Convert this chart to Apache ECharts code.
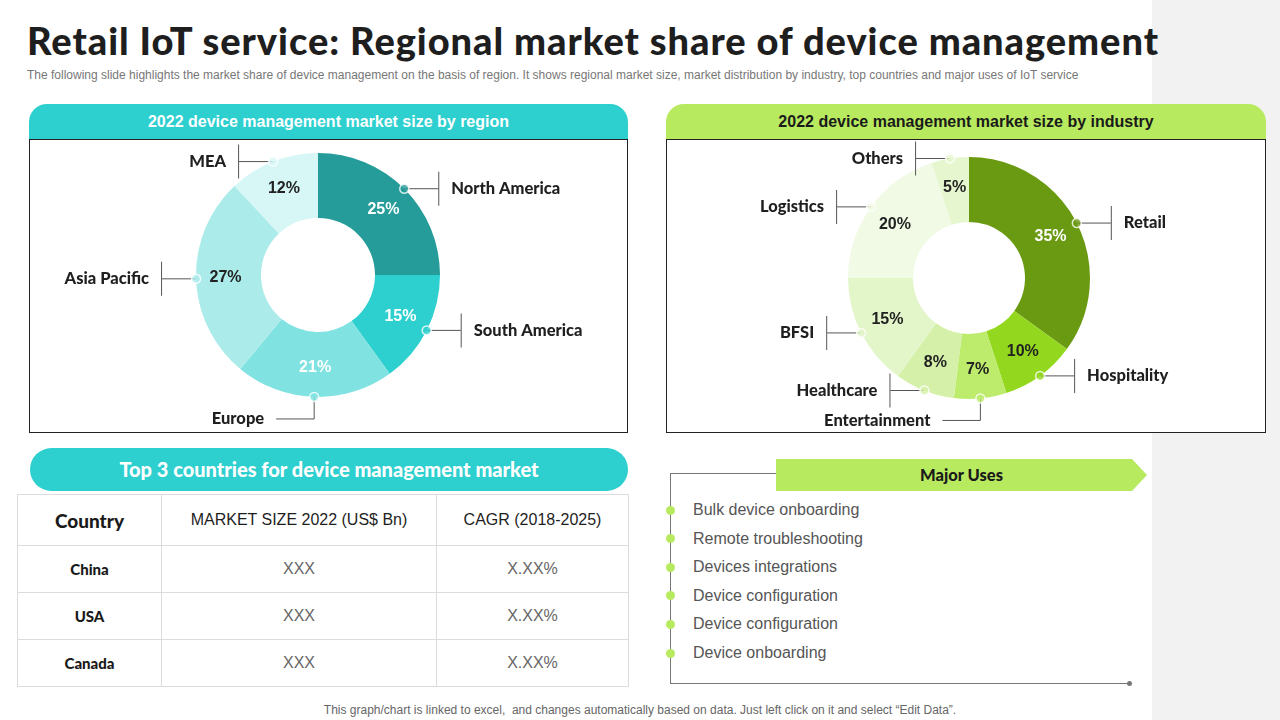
<!DOCTYPE html>
<html><head><meta charset="utf-8">
<script src="https://cdn.jsdelivr.net/npm/echarts@6/dist/echarts.min.js"></script>
<style>
body{margin:0;width:1280px;height:720px;position:relative;background:#fff;overflow:hidden;font-family:'Liberation Sans',Arial,sans-serif;}
.abs{position:absolute;}
#strip{left:1152px;top:0;width:128px;height:720px;background:#f2f2f2;}
#title{left:27px;top:17px;font-family:Lato,sans-serif;font-weight:900;font-size:38px;color:#1e1e1e;white-space:nowrap;letter-spacing:0.95px;}
#subtitle{left:27px;top:68px;font-size:12px;color:#777;white-space:nowrap;letter-spacing:0px;}
.hdr{height:35px;line-height:35px;text-align:center;font-weight:bold;font-size:16px;border-radius:18px 18px 0 0;}
.box{box-sizing:border-box;border:1px solid #222;background:#fff;}
#pill{left:30px;top:448px;width:598px;height:43px;line-height:42px;border-radius:22px;background:#2dcfcf;color:#fff;text-align:center;font-family:Lato,sans-serif;font-weight:900;font-size:20px;}
table{border-collapse:collapse;position:absolute;left:17px;top:494px;width:612px;}
td{border:1px solid #dcdcdc;text-align:center;padding:0;}
.c1{font-family:Lato,sans-serif;font-weight:900;font-size:15px;color:#1a1a1a;}
.th1{font-family:Lato,sans-serif;font-weight:900;font-size:19px;color:#1a1a1a;}
.th{font-size:16px;color:#1e1e1e;}
.cv{font-size:16px;color:#666;}
#banner{left:776px;top:459px;width:371px;height:32px;line-height:32px;background:#b8ea5f;text-align:center;font-family:Lato,sans-serif;font-weight:900;font-size:16.5px;color:#1a1a1a;clip-path:polygon(0 0,calc(100% - 15px) 0,100% 50%,calc(100% - 15px) 100%,0 100%);}
.use{left:693px;font-size:16px;color:#555;white-space:nowrap;line-height:20px;}
.dot{left:666px;width:9px;height:9px;border-radius:50%;background:#b8ea5f;}
#footer{left:0;width:1280px;top:703px;text-align:center;font-size:12px;color:#666;}
</style></head>
<body>
<div class="abs" id="strip"></div>
<div class="abs" id="title">Retail IoT service: Regional market share of device management</div>
<div class="abs" id="subtitle">The following slide highlights the market share of device management on the basis of region. It shows regional market size, market distribution by industry, top countries and major uses of IoT service</div>

<div class="abs hdr" style="left:29px;top:104px;width:599px;background:#2dcfcf;color:#fff;">2022 device management market size by region</div>
<div class="abs box" style="left:29px;top:139px;width:599px;height:294px;"></div>
<div class="abs" id="c1" style="left:29px;top:139px;width:599px;height:294px;"></div>

<div class="abs hdr" style="left:666px;top:104px;width:600px;background:#b8ea5f;color:#1a1a1a;">2022 device management market size by industry</div>
<div class="abs box" style="left:666px;top:139px;width:600px;height:294px;"></div>
<div class="abs" id="c2" style="left:666px;top:139px;width:600px;height:294px;"></div>

<div class="abs" id="pill">Top 3 countries for device management market</div>
<table id="tbl"></table>

<div class="abs" style="left:670px;top:473px;width:106px;border-top:1px solid #777;"></div>
<div class="abs" style="left:670px;top:473px;height:210px;border-left:1px solid #777;"></div>
<div class="abs" style="left:670px;top:683px;width:459px;border-top:1px solid #777;"></div>
<div class="abs" style="left:1127px;top:681px;width:5px;height:5px;border-radius:50%;background:#777;"></div>
<div class="abs" id="banner">Major Uses</div>
<div id="uses"></div>

<div class="abs" id="footer">This graph/chart is linked to excel,&nbsp; and changes automatically based on data. Just left click on it and select “Edit Data”.</div>

<script>
// ---- data ----
const regionNames = ['North America', 'South America', 'Europe', 'Asia Pacific', 'MEA'];
const regionValues = [25, 15, 21, 27, 12];
const industryNames = ['Retail', 'Hospitality', 'Entertainment', 'Healthcare', 'BFSI', 'Logistics', 'Others'];
const industryValues = [35, 10, 7, 8, 15, 20, 5];
const tableHeaders = ['Country', 'MARKET SIZE 2022 (US$ Bn)', 'CAGR (2018-2025)'];
const countries = ['China', 'USA', 'Canada'];
const marketSizes = ['XXX', 'XXX', 'XXX'];
const cagrs = ['X.XX%', 'X.XX%', 'X.XX%'];
const majorUses = ['Bulk device onboarding', 'Remote troubleshooting', 'Devices integrations', 'Device configuration', 'Device configuration', 'Device onboarding'];

// ---- styles ----
const regionColors = ['#259c9a', '#2ed0cf', '#80e3e2', '#abeceb', '#d7f6f6'];
const regionLabelColors = ['#fff', '#fff', '#fff', '#222', '#222'];
const industryColors = ['#6a9a12', '#93d81e', '#bdeb6c', '#d5f1a9', '#e3f6c9', '#f1fae5', '#e6f7cf'];
const industryLabelColors = ['#fff', '#222', '#222', '#222', '#222', '#222', '#222'];

// table
const tbl = document.getElementById('tbl');
let html = '<tr style="height:51px"><td class="th1" style="width:143px">' + tableHeaders[0] + '</td><td class="th" style="width:274px">' + tableHeaders[1] + '</td><td class="th">' + tableHeaders[2] + '</td></tr>';
countries.forEach((c, i) => {
  html += '<tr style="height:47px"><td class="c1">' + c + '</td><td class="cv">' + marketSizes[i] + '</td><td class="cv">' + cagrs[i] + '</td></tr>';
});
tbl.innerHTML = html;

// uses
const usesEl = document.getElementById('uses');
majorUses.forEach((u, i) => {
  const y = 510 + i * 28.6;
  usesEl.innerHTML += '<div class="abs dot" style="top:' + (y - 4.5) + 'px"></div><div class="abs use" style="top:' + (y - 10) + 'px">' + u + '</div>';
});

function makeDonut(el, names, values, colors, labelColors, cx, cy, r0, r1) {
  const total = values.reduce((a, b) => a + b, 0);
  const mids = [];
  let acc = 0;
  values.forEach(v => { mids.push(acc + v / 2); acc += v; });
  const angleOf = i => mids[i] / total * 360;
  const sideOf = i => {
    const a = angleOf(i);
    if (Math.abs(a - 180) < 12) return 'bottom';
    return a < 180 ? 'right' : 'left';
  };
  const nameFont = { fontFamily: 'Lato', fontWeight: 900, fontSize: 16.5, color: '#1f1f1f' };
  const chart = echarts.init(document.getElementById(el));
  chart.setOption({
    animation: false,
    polar: { center: [cx, cy], radius: [0, r1] },
    angleAxis: { type: 'value', min: 0, max: total, startAngle: 90, clockwise: true, show: false },
    radiusAxis: { type: 'value', min: 0, max: 1, show: false },
    series: [
      {
        type: 'pie', radius: [r0, r1], center: [cx, cy], startAngle: 90, clockwise: true, silent: true,
        label: { show: true, position: 'inside', formatter: '{c}%', fontSize: 16, fontWeight: 'bold', fontFamily: 'Liberation Sans' },
        labelLine: { show: false },
        data: names.map((n, i) => ({ name: n, value: values[i], itemStyle: { color: colors[i] }, label: { color: labelColors[i] } }))
      },
      {
        type: 'pie', radius: [r0, r1], center: [cx, cy], startAngle: 90, clockwise: true, silent: true,
        itemStyle: { color: 'rgba(0,0,0,0)' },
        label: {
          show: true, position: 'outside',
          formatter: p => {
            const s = sideOf(p.dataIndex);
            if (s === 'right') return '{bar| }{nr|' + p.name + '}';
            if (s === 'left') return '{nl|' + p.name + '}{bar| }';
            return '{nl|' + p.name + '}';
          },
          rich: {
            bar: { width: 1, height: 34, backgroundColor: '#555' },
            nr: Object.assign({ padding: [0, 0, 0, 12] }, nameFont),
            nl: Object.assign({ padding: [0, 12, 0, 0] }, nameFont)
          }
        },
        labelLine: { show: true, length: 0, length2: 34, lineStyle: { color: '#555', width: 1 } },
        labelLayout: p => {
          const i = p.dataIndex;
          const a = angleOf(i) * Math.PI / 180;
          const x0 = cx + r1 * Math.sin(a), y0 = cy - r1 * Math.cos(a);
          const s = sideOf(i);
          let x1 = x0, y1 = y0, x2, y2;
          if (s === 'bottom') { y1 = y0 + 22; x2 = x1 - 38; y2 = y1; }
          else { x2 = x0 + (s === 'right' ? 34 : -34); y2 = y0; }
          return { x: x2, y: y2, align: s === 'right' ? 'left' : 'right', verticalAlign: 'middle', labelLinePoints: [[x0, y0], [x1, y1], [x2, y2]] };
        },
        data: names.map((n, i) => ({ name: n, value: values[i] }))
      },
      {
        type: 'scatter', coordinateSystem: 'polar', silent: true, symbolSize: 9, z: 5,
        data: mids.map((m, i) => ({ value: [1, m], itemStyle: { color: colors[i], borderColor: '#fff', borderWidth: 1.5 } }))
      }
    ]
  });
}

makeDonut('c1', regionNames, regionValues, regionColors, regionLabelColors, 289, 136, 57, 122);
makeDonut('c2', industryNames, industryValues, industryColors, industryLabelColors, 303, 139, 56, 121);
</script>
</body></html>
